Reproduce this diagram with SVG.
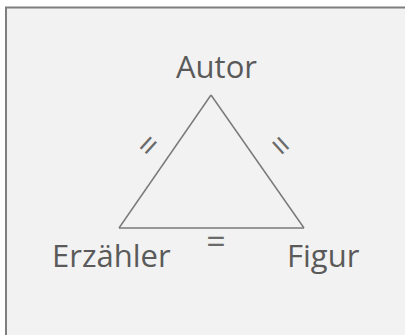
<svg xmlns="http://www.w3.org/2000/svg" width="405" height="335" viewBox="0 0 405 335">
<style>
.lbl{font-family:"Open Sans","Liberation Sans",sans-serif;font-size:31px;fill:#5a5a5a;}
.eq{font-family:"Open Sans","Liberation Sans",sans-serif;font-size:34px;fill:#6a6a6a;text-anchor:middle;}
.edge{stroke:#7a7a7a;stroke-width:1.5;fill:none;}
</style>
<rect width="405" height="335" fill="#ffffff"/>
<rect x="6" y="7.5" width="410" height="340" fill="#f2f2f2" stroke="#7f7f7f" stroke-width="2"/>
<g id="connectors">
<line class="edge" x1="211" y1="95" x2="119" y2="228"/>
<line class="edge" x1="211" y1="95" x2="304" y2="228"/>
<line class="edge" x1="119" y1="228" x2="304" y2="228"/>
<text class="eq" transform="translate(149,146) rotate(-48)" y="11">=</text>
<text class="eq" transform="translate(280,146) rotate(48)" y="11">=</text>
<text class="eq" x="216" y="254">=</text>
</g>
<g id="autor"><text class="lbl" x="176" y="78">Autor</text></g>
<g id="erzaehler"><text class="lbl" x="52" y="267">Erzähler</text></g>
<g id="figur"><text class="lbl" x="287" y="267">Figur</text></g>
</svg>
